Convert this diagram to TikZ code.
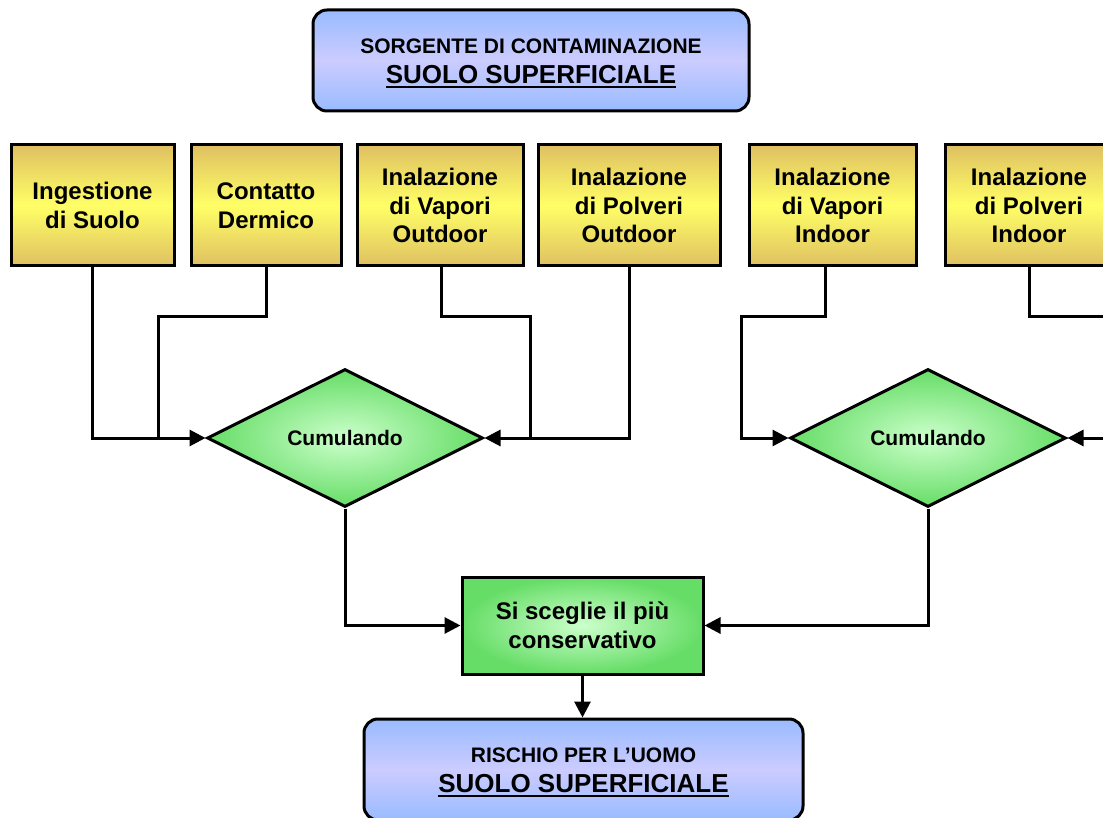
\documentclass[tikz,border=0pt]{standalone}
\usepackage{fontspec}
\setmainfont{Liberation Sans}
\usetikzlibrary{arrows.meta,shapes.geometric}
\definecolor{goldE}{HTML}{DFC062}
\definecolor{yelM}{HTML}{FFFF66}
\definecolor{blueE}{HTML}{99BBFF}
\definecolor{blueM}{HTML}{CCCCFF}
\definecolor{greenO}{HTML}{66DD66}
\definecolor{greenI}{HTML}{CCFFCC}
\newcommand\myul[1]{\setbox0\hbox{#1}\rlap{\rule[-4.5pt]{\wd0}{2pt}}\box0}
\tikzset{
  bluebox/.style={draw, line width=3pt, rounded corners=14pt, top color=blueE, bottom color=blueE, middle color=blueM, inner sep=0pt, align=center, font=\bfseries\fontsize{21}{30}\selectfont},
  yelbox/.style={draw, line width=3pt, top color=goldE, bottom color=goldE, middle color=yelM, minimum height=121pt, inner sep=0pt, align=center, font=\bfseries\fontsize{24}{28.5}\selectfont},
  cumdia/.style={draw, line width=3pt, shape=diamond, inner sep=0pt, minimum width=276pt, minimum height=138pt, shading=radial, inner color=greenI, outer color=greenO, font=\bfseries\fontsize{21}{25}\selectfont},
  greenbox/.style={draw, line width=3pt, shading=radial, inner color=greenI, outer color=greenO, inner sep=0pt, align=center, font=\bfseries\fontsize{24}{29}\selectfont},
  wire/.style={draw, line width=3pt},
  conn/.style={draw, line width=3pt, -{Triangle[length=16pt,width=16pt]}}
}
\begin{document}
\begin{tikzpicture}[x=1pt,y=-1pt]
\useasboundingbox (0,0) rectangle (1103,818);
\clip (0,0) rectangle (1103,818);
\fill[white] (0,0) rectangle (1103,818);
% top source box
\node[bluebox, minimum width=436pt, minimum height=101pt] (src) at (531,60.5)
  {\rule{0pt}{21pt}SORGENTE DI CONTAMINAZIONE\\{\fontsize{26}{30}\selectfont\myul{SUOLO SUPERFICIALE}}};
% exposure pathways
\node[yelbox, minimum width=163pt] (b1) at (92.5,205.5) {Ingestione\\di Suolo};
\node[yelbox, minimum width=150pt] (b2) at (266,205.5) {Contatto\\Dermico};
\node[yelbox, minimum width=166pt] (b3) at (440,205.5) {Inalazione\\di Vapori\\Outdoor};
\node[yelbox, minimum width=182pt] (b4) at (629,205.5) {Inalazione\\di Polveri\\Outdoor};
\node[yelbox, minimum width=167pt] (b5) at (832.5,205.5) {Inalazione\\di Vapori\\Indoor};
\node[yelbox, minimum width=168pt] (b6) at (1029,205.5) {Inalazione\\di Polveri\\Indoor};
% diamonds
\node[cumdia] (d1) at (345,438) {Cumulando};
\node[cumdia] (d2) at (928,438) {Cumulando};
% choice box
\node[greenbox, minimum width=241pt, minimum height=97pt] (g) at (582.5,625.5) {Si sceglie il più\\conservativo};
% result box
\node[bluebox, minimum width=439pt, minimum height=101pt] (res) at (583.5,769.5)
  {\rule{0pt}{21pt}RISCHIO PER L’UOMO\\{\fontsize{26}{30}\selectfont\myul{SUOLO SUPERFICIALE}}};
% routing coordinates
\coordinate (r2) at (158,317);
\coordinate (j1) at (158,438);
\coordinate (r3) at (530,317);
\coordinate (j3) at (530,438);
\coordinate (r5) at (741,317);
\coordinate (r6) at (1125,317);
\coordinate (o7) at (1125,438);
% connectors
\draw[conn] (b1.south) |- (d1.west);
\draw[wire] (b2.south) |- (r2) -- (j1);
\draw[wire] ([xshift=1pt]b3.south) |- (r3) -- (j3);
\draw[conn] (b4.south) |- (d1.east);
\draw[conn] ([xshift=-7.5pt]b5.south) |- (r5) |- (d2.west);
\draw[wire] (b6.south) |- (r6);
\draw[conn] (o7) -- (d2.east);
\draw[conn] (d1.south) |- (g.west);
\draw[conn] (d2.south) |- (g.east);
\draw[conn] (g.south) -- (g.south |- res.north);
\end{tikzpicture}
\end{document}
